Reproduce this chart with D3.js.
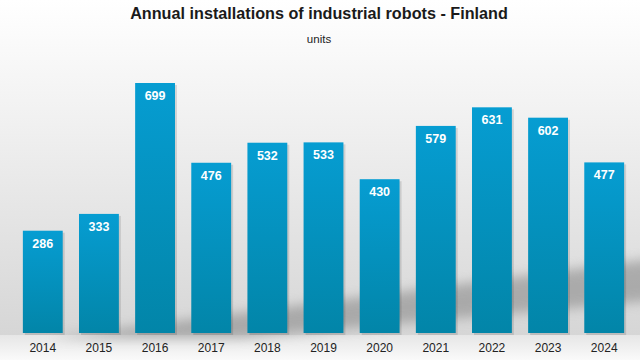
<!DOCTYPE html>
<html><head><meta charset="utf-8">
<script src="https://cdn.jsdelivr.net/npm/d3@7"></script>
<style>body{margin:0;}svg{display:block;}</style>
</head><body>
<script>
const years = ["2014","2015","2016","2017","2018","2019","2020","2021","2022","2023","2024"];
const values = [286,333,699,476,532,533,430,579,631,602,477];
const title = "Annual installations of industrial robots - Finland";
const subtitle = "units";

const W = 640, H = 360;
const svg = d3.select("body").append("svg").attr("width", W).attr("height", H);
const defs = svg.append("defs");

const bg = defs.append("linearGradient").attr("id","bg").attr("x1",0).attr("y1",0).attr("x2",0).attr("y2",1);
bg.append("stop").attr("offset","0").attr("stop-color","#ffffff");
bg.append("stop").attr("offset","0.3").attr("stop-color","#f3f3f3");
bg.append("stop").attr("offset","1").attr("stop-color","#d6d6d6");
const fl = defs.append("linearGradient").attr("id","fl").attr("x1",0).attr("y1",0).attr("x2",0).attr("y2",1);
fl.append("stop").attr("offset","0").attr("stop-color","#e6e6e6");
fl.append("stop").attr("offset","1").attr("stop-color","#fafafa");
const bar = defs.append("linearGradient").attr("id","bar").attr("x1",0).attr("y1",0).attr("x2",0).attr("y2",1);
bar.append("stop").attr("offset","0").attr("stop-color","#069dd2");
bar.append("stop").attr("offset","1").attr("stop-color","#0285a8");
defs.append("filter").attr("id","blur").attr("x","-20%").attr("y","-50%").attr("width","140%").attr("height","200%")
  .append("feGaussianBlur").attr("stdDeviation",6);

svg.append("rect").attr("width",W).attr("height",335).attr("fill","url(#bg)");
svg.append("rect").attr("y",335).attr("width",W).attr("height",25).attr("fill","url(#fl)");

// decorative diagonal shadow
svg.append("polygon")
  .attr("points","50,338 660,258 660,300 240,338")
  .attr("fill","#8a8a8a").attr("opacity",0.6).attr("filter","url(#blur)");

const x = d3.scaleBand().domain(years).range([15, 632]).paddingInner(0.29).paddingOuter(0.14);
const y = d3.scaleLinear().domain([0, 699]).range([333, 83]);

const g = svg.append("g");
g.selectAll("rect.sh").data(values).join("rect").attr("class","sh")
  .attr("x",(d,i)=>x(years[i])+2).attr("y",d=>y(d)+2)
  .attr("width",x.bandwidth()).attr("height",d=>y(0)-y(d))
  .attr("fill","#000").attr("opacity",0.12);
g.selectAll("rect.b").data(values).join("rect").attr("class","b")
  .attr("x",(d,i)=>x(years[i])).attr("y",d=>y(d))
  .attr("width",x.bandwidth()).attr("height",d=>y(0)-y(d))
  .attr("fill","url(#bar)");
g.selectAll("text.v").data(values).join("text").attr("class","v")
  .attr("x",(d,i)=>x(years[i])+x.bandwidth()/2).attr("y",d=>y(d)+17)
  .attr("text-anchor","middle").attr("fill","#fff")
  .attr("font-family","Liberation Sans, Arial, sans-serif").attr("font-weight","bold").attr("font-size",12.5)
  .text(d=>d);

const ax = svg.append("g").attr("transform","translate(0,333)")
  .call(d3.axisBottom(x).tickSize(0).tickPadding(10));
ax.select(".domain").remove();
ax.selectAll("text").attr("font-family","Liberation Sans, Arial, sans-serif").attr("font-size",12).attr("fill","#222");

svg.append("text").attr("x",319).attr("y",19).attr("text-anchor","middle")
  .attr("font-family","Liberation Sans, Arial, sans-serif").attr("font-weight","bold").attr("font-size",16.2).attr("fill","#1a1a1a")
  .text(title);
svg.append("text").attr("x",319).attr("y",43).attr("text-anchor","middle")
  .attr("font-family","Liberation Sans, Arial, sans-serif").attr("font-size",11.5).attr("fill","#222")
  .text(subtitle);
</script>
</body></html>
